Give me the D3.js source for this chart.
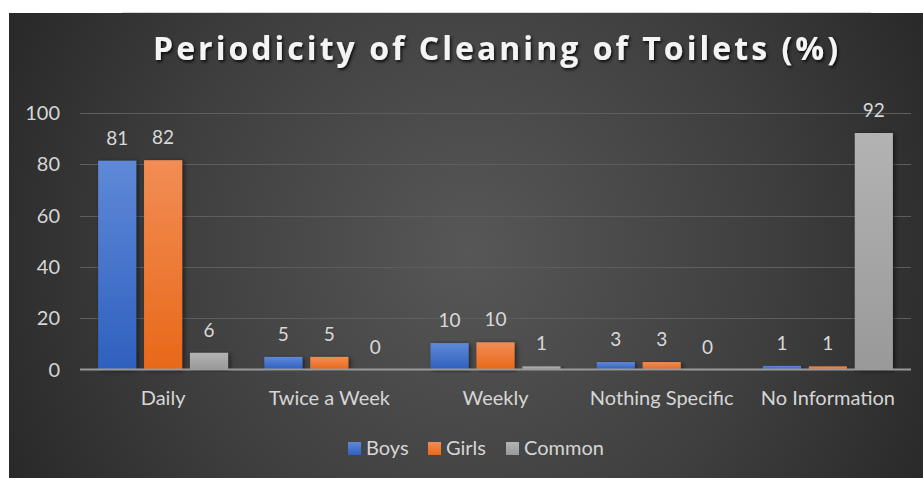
<!DOCTYPE html>
<html><head><meta charset="utf-8">
<script src="https://cdn.jsdelivr.net/npm/d3@7"></script>
<style>
html,body{margin:0;padding:0;background:#fff;}
svg{display:block;}
</style></head>
<body>
<svg id="chart" width="923" height="478"></svg>
<script>
const categories = ["Daily", "Twice a Week", "Weekly", "Nothing Specific", "No Information"];
const seriesNames = ["Boys", "Girls", "Common"];
const boys = [81.4, 4.9, 10.3, 2.9, 1.4];
const girls = [81.6, 4.9, 10.6, 2.9, 1.2];
const common = [6.5, 0, 1.2, 0, 92.2];
const labelsBoys = ["81", "5", "10", "3", "1"];
const labelsGirls = ["82", "5", "10", "3", "1"];
const labelsCommon = ["6", "0", "1", "0", "92"];
const yTicks = [0, 20, 40, 60, 80, 100];
const title = "Periodicity of Cleaning of Toilets (%)";

const seriesValues = [boys, girls, common];
const seriesLabels = [labelsBoys, labelsGirls, labelsCommon];
const colorsTop = ["#5f89d8", "#f28d55", "#b3b3b3"];
const colorsBot = ["#2e60be", "#e86818", "#999999"];

const W = 923, H = 478;
const svg = d3.select("#chart");
const defs = svg.append("defs");

const rg = defs.append("radialGradient").attr("id","bg")
  .attr("gradientUnits","userSpaceOnUse")
  .attr("cx", 470).attr("cy", 250).attr("r", 560);
rg.append("stop").attr("offset","0%").attr("stop-color","#575757");
rg.append("stop").attr("offset","55%").attr("stop-color","#3e3e3e");
rg.append("stop").attr("offset","100%").attr("stop-color","#242424");

seriesNames.forEach((s,i)=>{
  const lg = defs.append("linearGradient").attr("id","g"+i)
    .attr("x1",0).attr("y1",0).attr("x2",0).attr("y2",1);
  lg.append("stop").attr("offset","0%").attr("stop-color",colorsTop[i]);
  lg.append("stop").attr("offset","100%").attr("stop-color",colorsBot[i]);
});

const f = defs.append("filter").attr("id","ts").attr("x","-10%").attr("y","-30%").attr("width","120%").attr("height","160%");
f.append("feDropShadow").attr("dx",1.5).attr("dy",2).attr("stdDeviation",1.5).attr("flood-color","#000").attr("flood-opacity",0.8);
const fb = defs.append("filter").attr("id","bs").attr("x","-30%").attr("y","-10%").attr("width","160%").attr("height","120%");
fb.append("feDropShadow").attr("dx",2).attr("dy",1).attr("stdDeviation",2.5).attr("flood-color","#000").attr("flood-opacity",0.55);

svg.append("rect").attr("width",W).attr("height",H).attr("fill","#fff");
svg.append("rect").attr("x",9).attr("y",13).attr("width",W-9).attr("height",H-13).attr("fill","url(#bg)");
svg.append("line").attr("x1",122).attr("x2",871).attr("y1",12.5).attr("y2",12.5).attr("stroke","#d8d8d8").attr("stroke-width",1);

// title
svg.append("text").attr("x",153).attr("y",60)
  .attr("textLength",685).attr("lengthAdjust","spacing")
  .attr("font-family","'Open Sans', Lato, sans-serif").attr("font-weight","bold")
  .attr("font-size",32).attr("fill","#f4f4f4").attr("filter","url(#ts)")
  .text(title);

const x = d3.scaleBand().domain(categories).range([80, 911]).paddingInner(0.218).paddingOuter(0.109);
const xs = d3.scaleBand().domain(seriesNames).range([0, x.bandwidth()]).paddingInner(0.17);
const y = d3.scaleLinear().domain([0,100]).range([369.5, 113]);

const font = "Lato, 'Open Sans', sans-serif";

// gridlines
svg.append("g").selectAll("line").data(yTicks.filter(t=>t>0)).join("line")
  .attr("x1",80).attr("x2",911)
  .attr("y1",d=>Math.round(y(d))+0.5).attr("y2",d=>Math.round(y(d))+0.5)
  .attr("stroke","#5e5e5e").attr("stroke-width",1.2);

// y tick labels
svg.append("g").selectAll("text").data(yTicks).join("text")
  .attr("x",60).attr("y",d=>y(d)+7)
  .attr("text-anchor","end").attr("font-family",font).attr("font-size",20)
  .attr("fill","#d6d6d6").text(d=>d);

// bars
const groups = svg.append("g").selectAll("g").data(categories).join("g")
  .attr("transform",d=>`translate(${x(d)},0)`);
seriesNames.forEach((s,si)=>{
  groups.append("rect")
    .attr("x",xs(s)).attr("width",xs.bandwidth())
    .attr("y",(d,ci)=>y(seriesValues[si][ci]))
    .attr("height",(d,ci)=>y(0)-y(seriesValues[si][ci]))
    .attr("fill",`url(#g${si})`).attr("filter","url(#bs)");
});

// baseline
svg.append("line").attr("x1",80).attr("x2",911).attr("y1",y(0)).attr("y2",y(0))
  .attr("stroke","#9a9a9a").attr("stroke-width",2);

// data labels
seriesNames.forEach((s,si)=>{
  groups.append("text")
    .attr("x",xs(s)+xs.bandwidth()/2)
    .attr("y",(d,ci)=>y(seriesValues[si][ci])-16)
    .attr("text-anchor","middle").attr("font-family",font).attr("font-size",19)
    .attr("fill","#d9d9d9").text((d,ci)=>seriesLabels[si][ci]);
});

// category labels
svg.append("g").selectAll("text").data(categories).join("text")
  .attr("x",d=>x(d)+x.bandwidth()/2).attr("y",405)
  .attr("text-anchor","middle").attr("font-family",font).attr("font-size",20)
  .attr("fill","#d6d6d6").text(d=>d);

// legend
const legX = [348, 428, 506];
const leg = svg.append("g").selectAll("g").data(seriesNames).join("g")
  .attr("transform",(d,i)=>`translate(${legX[i]},442)`);
leg.append("rect").attr("width",13).attr("height",13).attr("fill",(d,i)=>`url(#g${i})`);
leg.append("text").attr("x",18).attr("y",13).attr("font-family",font).attr("font-size",20)
  .attr("fill","#d6d6d6").text(d=>d);
</script>
</body></html>
